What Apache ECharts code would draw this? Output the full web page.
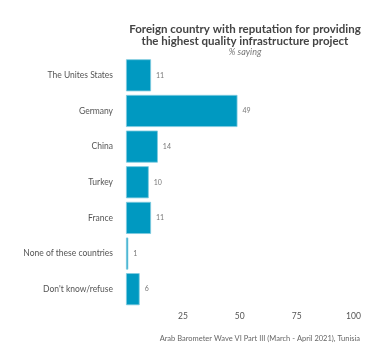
<!DOCTYPE html>
<html><head><meta charset="utf-8">
<script src="https://cdn.jsdelivr.net/npm/echarts@6/dist/echarts.min.js"></script>
<style>html,body{margin:0;padding:0;background:#fff}#c{width:392px;height:362px}</style>
</head><body><div id="c"></div>
<script>
const categories = ["The Unites States","Germany","China","Turkey","France","None of these countries","Don't know/refuse"];
const values = [11,49,14,10,11,1,6];
const xTicks = [0,25,50,75,100];
const FONT = "Lato, 'Noto Sans', sans-serif";
const chart = echarts.init(document.getElementById('c'));
chart.setOption({
  animation:false,
  title:[{
    text:"Foreign country with reputation for providing\nthe highest quality infrastructure project",
    subtext:"% saying",
    left:240, top:19, textAlign:'center',
    textStyle:{fontFamily:FONT,fontSize:11.5,fontWeight:'bold',color:'#444',lineHeight:11.5},
    subtextStyle:{fontFamily:FONT,fontSize:9,fontStyle:'italic',color:'#777'},
    itemGap:0
  },{
    text:"Arab Barometer Wave VI Part III (March - April 2021), Tunisia",
    right:27, top:330,
    textStyle:{fontFamily:FONT,fontSize:7.5,fontWeight:'normal',color:'#666'}
  }],
  grid:{left:126,right:38.5,top:57.5,bottom:55,containLabel:false},
  xAxis:{type:'value',min:0,max:100,interval:25,
    axisLine:{show:false},axisTick:{show:false},splitLine:{show:false},
    axisLabel:{fontFamily:FONT,fontSize:8.5,color:'#555',margin:5,
      formatter:v=>xTicks.indexOf(v)>0?String(v):''}},
  yAxis:{type:'category',data:categories,inverse:true,
    axisLine:{show:false},axisTick:{show:false},
    axisLabel:{fontFamily:FONT,fontSize:8.5,color:'#555',margin:13}},
  series:[{type:'bar',data:values,barCategoryGap:'10%',
    itemStyle:{color:'#0099c1',borderColor:'#7fcbe0',borderWidth:0.8},
    label:{show:true,position:'right',distance:5,fontFamily:FONT,fontSize:7,color:'#777'}}]
});
</script></body></html>
